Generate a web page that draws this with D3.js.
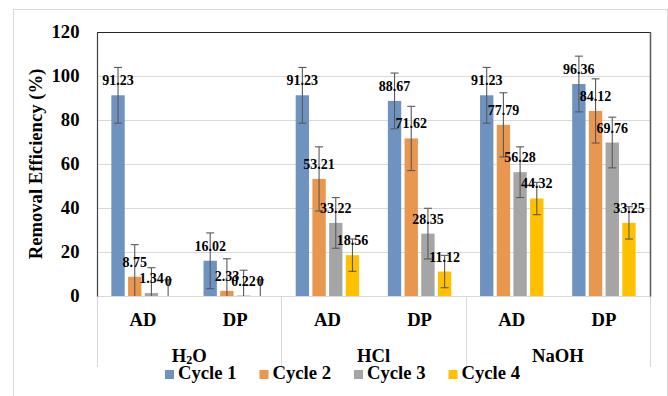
<!DOCTYPE html>
<html>
<head>
<meta charset="utf-8">
<script src="https://cdn.jsdelivr.net/npm/d3@7"></script>
<style>
  html, body { margin: 0; padding: 0; background: #fff; }
</style>
</head>
<body>
<svg id="chart" width="668" height="396"></svg>
<script>
// Treatment groups and the two sub-categories under each
const groups = ["H2O", "HCl", "NaOH"];
const subCategories = ["AD", "DP"];
const seriesNames = ["Cycle 1", "Cycle 2", "Cycle 3", "Cycle 4"];
const seriesColors = ["#6f93c0", "#e9964f", "#a5a5a5", "#ffc000"];

// Removal efficiency (%) per cycle, in order H2O-AD, H2O-DP, HCl-AD, HCl-DP, NaOH-AD, NaOH-DP
const cycle1 = [91.23, 16.02, 91.23, 88.67, 91.23, 96.36];
const cycle2 = [8.75, 2.33, 53.21, 71.62, 77.79, 84.12];
const cycle3 = [1.34, 0.22, 33.22, 28.35, 56.28, 69.76];
const cycle4 = [0, 0, 18.56, 11.12, 44.32, 33.25];
const seriesValues = [cycle1, cycle2, cycle3, cycle4];

const yTicks = [0, 20, 40, 60, 80, 100, 120];

// Error bars: standard error of each series
const seriesError = seriesValues.map(v => d3.deviation(v) / Math.sqrt(v.length));

const svg = d3.select("#chart");
const plot = { left: 97, right: 650, top: 32, bottom: 296 };

// Outer chart frame
svg.append("rect")
  .attr("x", 13.5).attr("y", 9.5).attr("width", 654).attr("height", 400)
  .attr("fill", "#fff").attr("stroke", "#d9d9d9").attr("stroke-width", 1);

const slots = [];
groups.forEach(g => subCategories.forEach(s => slots.push(g + "|" + s)));

const x0 = d3.scaleBand().domain(slots).range([plot.left, plot.right]).padding(0);
const x1 = d3.scaleBand().domain(seriesNames).range([0, x0.bandwidth()])
  .paddingInner(0.2).paddingOuter(0.86);
const y = d3.scaleLinear().domain([0, 120]).range([plot.bottom, plot.top]);

function label(sel, size) {
  return sel.style("font-family", "Liberation Serif")
    .style("font-weight", "bold")
    .style("font-size", size + "px")
    .attr("fill", "#000");
}

// Horizontal gridlines
svg.append("g").selectAll("line").data(yTicks.filter(t => t > 0 && t < 120)).join("line")
  .attr("x1", plot.left).attr("x2", plot.right)
  .attr("y1", d => Math.round(y(d)) + 0.5).attr("y2", d => Math.round(y(d)) + 0.5)
  .attr("stroke", "#d9d9d9").attr("stroke-width", 1);

// Y tick labels
svg.append("g").selectAll("text").data(yTicks).join("text")
  .call(label, 18.67)
  .attr("x", 79.5).attr("y", d => y(d) + 6)
  .attr("text-anchor", "end")
  .text(d => d);

// Y axis title
svg.append("text")
  .call(label, 18.67)
  .attr("transform", `translate(42,${(plot.top + plot.bottom) / 2}) rotate(-90)`)
  .attr("text-anchor", "middle")
  .text("Removal Efficiency (%)");

// Bars
const barData = [];
seriesValues.forEach((vals, si) => vals.forEach((v, ci) => {
  barData.push({ series: seriesNames[si], si, slot: slots[ci], value: v, err: seriesError[si] });
}));

svg.append("g").selectAll("rect").data(barData).join("rect")
  .attr("x", d => x0(d.slot) + x1(d.series))
  .attr("width", x1.bandwidth())
  .attr("y", d => y(d.value))
  .attr("height", d => y(0) - y(d.value))
  .attr("fill", d => seriesColors[d.si]);

// Category axis line and group separators
svg.append("line")
  .attr("x1", plot.left).attr("x2", plot.right)
  .attr("y1", plot.bottom + 0.5).attr("y2", plot.bottom + 0.5)
  .attr("stroke", "#d9d9d9");
const sepX = groups.map(g => x0(g + "|AD")).concat([plot.right]);
svg.append("g").selectAll("line").data(sepX).join("line")
  .attr("x1", d => Math.round(d) + 0.5).attr("x2", d => Math.round(d) + 0.5)
  .attr("y1", plot.bottom).attr("y2", 367)
  .attr("stroke", "#d9d9d9");

// Plot area border (top, right) and value axis line
svg.append("line").attr("x1", plot.left).attr("x2", plot.right + 0.5)
  .attr("y1", plot.top + 0.5).attr("y2", plot.top + 0.5)
  .attr("stroke", "#262626").attr("stroke-width", 1.2);
svg.append("line").attr("x1", plot.right + 0.5).attr("x2", plot.right + 0.5)
  .attr("y1", plot.top).attr("y2", plot.bottom + 0.5)
  .attr("stroke", "#595959").attr("stroke-width", 1.5);
svg.append("line").attr("x1", plot.left + 0.5).attr("x2", plot.left + 0.5)
  .attr("y1", plot.top).attr("y2", plot.bottom + 0.5)
  .attr("stroke", "#404040").attr("stroke-width", 1.2);

// Error bars
const eb = svg.append("g").attr("stroke", "#595959").attr("stroke-width", 1.1).attr("fill", "none");
barData.forEach(d => {
  const cx = x0(d.slot) + x1(d.series) + x1.bandwidth() / 2;
  const yTop = y(Math.min(120, d.value + d.err));
  const lowV = d.value - d.err;
  const yBot = y(Math.max(0, lowV));
  eb.append("line").attr("x1", cx).attr("x2", cx).attr("y1", yTop).attr("y2", yBot);
  eb.append("line").attr("x1", cx - 4).attr("x2", cx + 4).attr("y1", yTop).attr("y2", yTop);
  if (lowV > 0) {
    eb.append("line").attr("x1", cx - 4).attr("x2", cx + 4).attr("y1", yBot).attr("y2", yBot);
  }
});

// Data labels
svg.append("g").selectAll("text").data(barData).join("text")
  .call(label, 14)
  .attr("x", d => x0(d.slot) + x1(d.series) + x1.bandwidth() / 2)
  .attr("y", d => y(d.value) - 10)
  .attr("text-anchor", "middle")
  .text(d => d.value === 0 ? "0" : d.value.toFixed(2));

// Sub-category labels
svg.append("g").selectAll("text").data(slots).join("text")
  .call(label, 18.67)
  .attr("x", d => x0(d) + x0.bandwidth() / 2)
  .attr("y", 325.5)
  .attr("text-anchor", "middle")
  .text(d => d.split("|")[1]);

// Group labels (H2O with a subscript digit)
const gl = svg.append("g").selectAll("text").data(groups).join("text")
  .call(label, 18.67)
  .attr("x", g => (x0(g + "|AD") + x0(g + "|DP") + x0.bandwidth()) / 2)
  .attr("y", 362.3)
  .attr("text-anchor", "middle");
gl.each(function (g) {
  const t = d3.select(this);
  const m = g.match(/^([A-Za-z]+)(\d)(.*)$/);
  if (m) {
    t.append("tspan").text(m[1]);
    t.append("tspan").style("font-size", "12px").attr("dy", 2).text(m[2]);
    t.append("tspan").attr("dy", -2).text(m[3]);
  } else {
    t.text(g);
  }
});

// Legend
const legend = svg.append("g");
const legStep = 94.5, legX0 = 165;
seriesNames.forEach((name, i) => {
  const lx = legX0 + i * legStep;
  legend.append("rect").attr("x", lx).attr("y", 370).attr("width", 9).attr("height", 9)
    .attr("fill", seriesColors[i]);
  legend.append("text").call(label, 18.67).attr("x", lx + 13).attr("y", 379).text(name);
});
</script>
</body>
</html>
